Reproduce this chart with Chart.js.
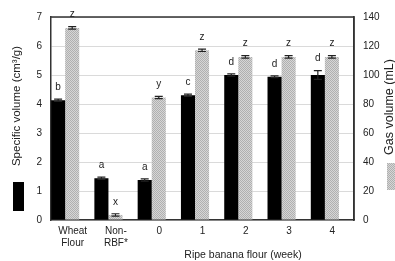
<!DOCTYPE html>
<html><head><meta charset="utf-8">
<script src="https://cdn.jsdelivr.net/npm/chart.js@4/dist/chart.umd.min.js"></script>
<style>html,body{margin:0;padding:0;background:#fff;}#wrap{width:395px;height:261px;position:relative;}</style>
</head><body><div id="wrap"><canvas id="c" width="395" height="261"></canvas></div>
<script>
const categories = [['Wheat','Flour'], ['Non-','RBF*'], '0', '1', '2', '3', '4'];
const specificVolume = [4.13, 1.44, 1.38, 4.30, 5.00, 4.94, 5.00];
const specificVolumeErr = [0.04, 0.04, 0.04, 0.04, 0.04, 0.03, 0.15];
const gasVolume = [132.5, 3.5, 84.5, 117, 112.5, 112.5, 112.5];
const gasVolumeErr = [0.8, 0.8, 0.8, 0.8, 0.8, 0.8, 0.8];
const specificLetters = ['b', 'a', 'a', 'c', 'd', 'd', 'd'];
const gasLetters = ['z', 'x', 'y', 'z', 'z', 'z', 'z'];
const leftTitle = 'Specific volume (cm³/g)';
const rightTitle = 'Gas volume (mL)';
const xTitle = 'Ripe banana flour (week)';

const FONT = 'Liberation Sans, Arial, sans-serif';
const TXT = '#222';

// dotted gray pattern
const pc = document.createElement('canvas');
pc.width = 2; pc.height = 2;
const pctx = pc.getContext('2d');
pctx.fillStyle = '#d6d6d6'; pctx.fillRect(0,0,2,2);
pctx.fillStyle = '#b0b0b0'; pctx.fillRect(0,0,1,1); pctx.fillRect(1,1,1,1);
const grayPattern = pctx.createPattern(pc, 'repeat');

const extras = {
  id: 'extras',
  afterDatasetsDraw(chart) {
    const ctx = chart.ctx;
    const a = chart.chartArea;
    ctx.save();
    ctx.strokeStyle = '#333';
    ctx.lineWidth = 1.5;
    ctx.beginPath();
    ctx.moveTo(a.left, a.top); ctx.lineTo(a.right, a.top); ctx.lineTo(a.right, a.bottom);
    ctx.stroke();
    const sets = [[0, specificVolume, specificVolumeErr, specificLetters, 'y'], [1, gasVolume, gasVolumeErr, gasLetters, 'y2']];
    sets.forEach(([di, vals, errs, letters, ax]) => {
      const meta = chart.getDatasetMeta(di);
      const sc = chart.scales[ax];
      meta.data.forEach((el, i) => {
        const x = el.x;
        const yTop = sc.getPixelForValue(vals[i] + errs[i]);
        const yBot = sc.getPixelForValue(vals[i] - errs[i]);
        ctx.strokeStyle = '#222';
        ctx.lineWidth = 1.2;
        ctx.beginPath();
        ctx.moveTo(x, yTop); ctx.lineTo(x, yBot);
        ctx.moveTo(x - 4, yTop); ctx.lineTo(x + 4, yTop);
        ctx.moveTo(x - 4, yBot); ctx.lineTo(x + 4, yBot);
        ctx.stroke();
        ctx.fillStyle = TXT;
        ctx.font = '10px ' + FONT;
        ctx.textAlign = 'center';
        ctx.textBaseline = 'middle';
        ctx.fillText(letters[i], x, yTop - 12);
      });
    });
    ctx.restore();
  },
  afterDraw(chart) {
    const ctx = chart.ctx;
    ctx.save();
    ctx.fillStyle = TXT;
    ctx.textAlign = 'center';
    ctx.textBaseline = 'middle';
    ctx.font = '10.5px ' + FONT;
    ctx.fillText(xTitle, 243, 255);
    ctx.save();
    ctx.font = '11.5px ' + FONT;
    ctx.translate(17, 106); ctx.rotate(-Math.PI/2);
    ctx.fillText(leftTitle, 0, 0);
    ctx.restore();
    ctx.save();
    ctx.font = '12.5px ' + FONT;
    ctx.translate(390, 107); ctx.rotate(-Math.PI/2);
    ctx.fillText(rightTitle, 0, 0);
    ctx.restore();
    // legend swatches
    ctx.fillStyle = '#000';
    ctx.fillRect(13, 182, 11, 29);
    ctx.fillStyle = grayPattern;
    ctx.fillRect(387, 163, 9, 27);
    ctx.restore();
  }
};

new Chart(document.getElementById('c'), {
  type: 'bar',
  data: {
    labels: categories,
    datasets: [
      {
        label: 'Specific volume',
        data: specificVolume.map((v, i) => ({x: i, y: v})),
        xAxisID: 'xb', yAxisID: 'y',
        backgroundColor: '#000',
        barPercentage: 1, categoryPercentage: 0.65
      },
      {
        label: 'Gas volume',
        data: gasVolume.map((v, i) => ({x: i, y: v})),
        xAxisID: 'xb', yAxisID: 'y2',
        backgroundColor: grayPattern,
        barPercentage: 1, categoryPercentage: 0.65
      }
    ]
  },
  options: {
    responsive: false,
    devicePixelRatio: 1,
    animation: false,
    layout: { padding: { top: 17, left: 0, right: 0, bottom: 0 } },
    plugins: { legend: { display: false }, tooltip: { enabled: false } },
    scales: {
      x: {
        type: 'category', labels: categories, offset: true, position: 'bottom',
        grid: { display: false, drawTicks: false },
        border: { display: true, color: '#333', width: 1.5 },
        ticks: { color: TXT, font: { family: FONT, size: 10 }, padding: 5, maxRotation: 0, autoSkip: false },
        afterFit: s => { s.height = 41; }
      },
      xb: { type: 'linear', display: false, offset: false, min: -0.327, max: 6.673 },
      y: {
        position: 'left', min: 0, max: 7,
        ticks: { stepSize: 1, color: TXT, font: { family: FONT, size: 10 }, padding: 9 },
        grid: { color: '#dadada', drawTicks: false },
        border: { color: '#333', width: 1.5 },
        afterFit: s => { s.width = 51; }
      },
      y2: {
        position: 'right', min: 0, max: 140,
        ticks: { stepSize: 20, color: TXT, font: { family: FONT, size: 10 }, padding: 9 },
        grid: { drawOnChartArea: false, drawTicks: false },
        border: { color: '#333', width: 1.5 },
        afterFit: s => { s.width = 41; }
      }
    }
  },
  plugins: [extras]
});
</script></body></html>
